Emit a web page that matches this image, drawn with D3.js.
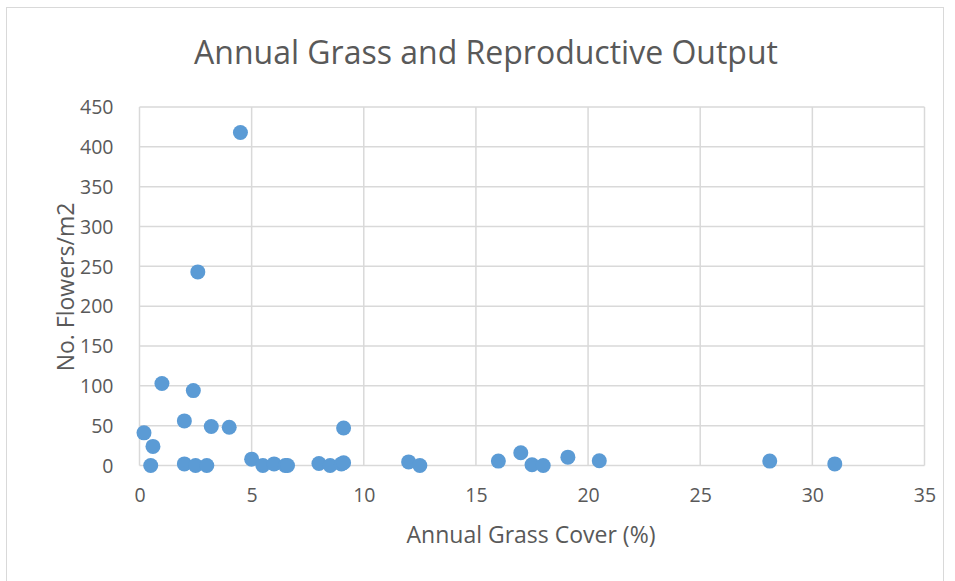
<!DOCTYPE html>
<html>
<head>
<meta charset="utf-8">
<script src="https://cdn.jsdelivr.net/npm/d3@7"></script>
<style>
  html, body { margin: 0; padding: 0; background: #fff; }
  svg { display: block; }
  text { font-family: "Open Sans", "Noto Sans", sans-serif; fill: #595959; }
</style>
</head>
<body>
<svg id="chart" width="955" height="581"></svg>
<script>
// Annual grass cover (%) per plot
const grassCover = [
  0.2, 0.5, 0.6, 1.0, 2.0, 2.0, 2.4, 2.5, 2.6, 3.0, 3.2, 4.0, 4.5,
  5.0, 5.5, 6.0, 6.5, 6.6, 8.0, 8.5, 9.0, 9.1, 9.1,
  12.0, 12.5, 16.0, 17.0, 17.5, 18.0, 19.1, 20.5, 28.1, 31.0
];
// Flowers per square metre for the same plots
const flowers = [
  41, 0, 24, 103, 56, 2, 94, 0, 243, 0, 49, 48, 418,
  8, 0, 2, 0, 0, 2.5, 0, 2, 3.5, 47,
  4.5, 0, 5.5, 16, 1, 0, 10.5, 6, 5.5, 2
];
const xTicks = [0, 5, 10, 15, 20, 25, 30, 35];
const yTicks = [0, 50, 100, 150, 200, 250, 300, 350, 400, 450];

const svg = d3.select("#chart");
const plot = { left: 139.5, right: 924.5, top: 107, bottom: 465.5 };

// chart area frame
svg.append("rect")
  .attr("x", 6.5).attr("y", 7.5).attr("width", 937).attr("height", 580)
  .attr("fill", "#fff").attr("stroke", "#d9d9d9").attr("stroke-width", 1);

const x = d3.scaleLinear().domain([0, 35]).range([plot.left, plot.right]);
const y = d3.scaleLinear().domain([0, 450]).range([plot.bottom, plot.top]);

// gridlines
const grid = svg.append("g").attr("stroke", "#d9d9d9").attr("stroke-width", 1.5);
grid.selectAll(".hg").data(yTicks).join("line")
  .attr("x1", plot.left).attr("x2", plot.right)
  .attr("y1", d => y(d)).attr("y2", d => y(d));
grid.selectAll(".vg").data(xTicks).join("line")
  .attr("y1", plot.top).attr("y2", plot.bottom)
  .attr("x1", d => x(d)).attr("x2", d => x(d));

// axes (labels only; lines come from the grid)
const xAxis = svg.append("g")
  .attr("transform", `translate(0,${plot.bottom})`)
  .call(d3.axisBottom(x).tickValues(xTicks).tickSize(0).tickPadding(23));
const yAxis = svg.append("g")
  .attr("transform", `translate(${plot.left},0)`)
  .call(d3.axisLeft(y).tickValues(yTicks).tickSize(0).tickPadding(26));
[xAxis, yAxis].forEach(a => {
  a.select(".domain").remove();
  a.selectAll("text").attr("font-size", 19.5).attr("fill", "#595959")
    .style("font-family", '"Open Sans", sans-serif');
});
yAxis.selectAll("text").attr("dy", "0.35em");

// points
svg.append("g").selectAll("circle")
  .data(grassCover.map((g, i) => [g, flowers[i]]))
  .join("circle")
  .attr("cx", d => x(d[0]))
  .attr("cy", d => y(d[1]))
  .attr("r", 7.5)
  .attr("fill", "#5b9bd5");

// titles
svg.append("text")
  .attr("x", 486).attr("y", 64)
  .attr("text-anchor", "middle")
  .attr("font-size", 32)
  .text("Annual Grass and Reproductive Output");

svg.append("text")
  .attr("x", 531).attr("y", 543)
  .attr("text-anchor", "middle")
  .attr("font-size", 23)
  .text("Annual Grass Cover (%)");

svg.append("text")
  .attr("transform", "translate(74,287) rotate(-90)")
  .attr("text-anchor", "middle")
  .attr("font-size", 23)
  .text("No. Flowers/m2");
</script>
</body>
</html>
